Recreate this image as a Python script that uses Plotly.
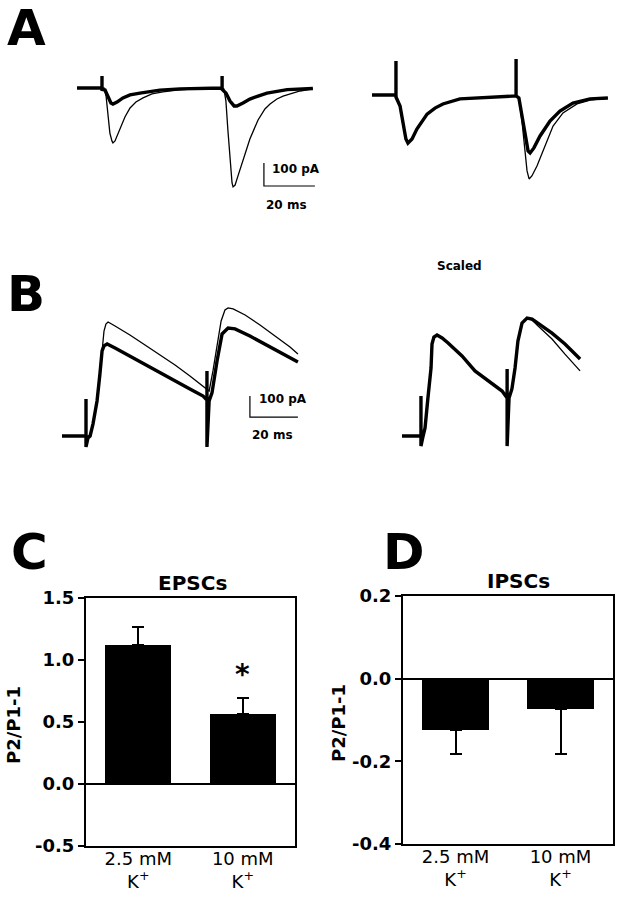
import plotly.graph_objects as go

W, H = 619, 899
FONT = "DejaVu Sans"

# ── traces, time in ms and current in pA ────────────────────────────────────
a_left_thick_t = [0, 9.8, 9.8, 9.8, 11.0, 12.2, 13.3, 14.1, 15.7, 18.0, 20.8, 24.7, 32.5, 40.4,
                  56.9, 56.9, 56.9, 58.4, 60.0, 61.6, 62.7, 65.1, 67.8, 71.0, 74.5, 82.4, 92.5]
a_left_thick_i = [0, 0, 52, -6, -9, -43, -65, -70, -61, -43, -30, -22, -9, -4,
                  0, 52, -6, -22, -57, -78, -78, -65, -48, -35, -22, -7, -2]
a_left_thin_t = [0, 10.6, 11.4, 12.2, 12.9, 13.7, 14.1, 14.9, 16.1, 17.3, 18.8, 20.8, 23.1, 25.9,
                 29.4, 33.7, 39.2, 46.3, 56.9, 57.6, 58.4, 59.2, 60.0, 60.8, 61.2, 62.0, 63.1,
                 65.1, 67.8, 71.0, 73.7, 75.7, 78.4, 80.8, 84.3, 87.5, 92.5]
a_left_thin_i = [0, 0, -35, -122, -196, -230, -239, -230, -200, -165, -126, -87, -61, -43,
                 -26, -17, -9, -4, 0, -4, -57, -187, -317, -413, -430, -422, -383,
                 -317, -222, -139, -91, -70, -48, -35, -22, -13, -4]

a_right_thick_t = [0, 9.4, 9.4, 9.4, 11.0, 12.2, 13.3, 14.1, 15.7, 17.6, 19.6, 21.6, 24.7, 27.8,
                   34.5, 45.1, 56.5, 56.5, 56.5, 57.6, 58.8, 60.0, 61.2, 62.0, 63.5, 65.9, 69.8,
                   73.7, 78.8, 85.5, 92.5]
a_right_thick_i = [0, 0, 148, -9, -48, -135, -191, -209, -191, -148, -113, -83, -57, -39,
                   -17, -9, -4, 157, -4, -13, -91, -178, -243, -252, -230, -178, -113,
                   -70, -35, -17, -13]
a_right_thin_t = [0, 9.4, 11.0, 12.2, 13.3, 14.1, 15.7, 17.6, 19.6, 21.6, 24.7, 27.8, 34.5, 45.1,
                  56.5, 57.6, 58.8, 60.0, 60.8, 61.6, 62.7, 64.7, 67.8, 71.0, 74.9, 80.4, 85.5, 92.5]
a_right_thin_i = [0, 0, -48, -135, -191, -209, -191, -148, -113, -83, -57, -39, -17, -9,
                  -4, -13, -113, -243, -330, -365, -352, -309, -222, -135, -78, -39, -22, -13]

b_left_thick_t = [0, 10.0, 10.0, 10.0, 10.8, 11.7, 12.9, 14.6, 15.8, 16.7, 17.5, 18.8, 22.1, 28.3,
                  34.6, 40.8, 47.1, 53.3, 58.8, 60.4, 60.4, 60.4, 61.3, 62.5, 64.6, 66.7, 69.2,
                  72.1, 78.3, 84.6, 90.8, 98.3]
b_left_thick_i = [0, 0, 176, -52, -10, 0, 57, 167, 295, 405, 429, 438, 419, 381,
                  343, 305, 262, 224, 190, 171, 310, -52, 167, 205, 357, 486, 514,
                  510, 476, 438, 400, 352]
b_left_thin_t = [0, 11.7, 12.9, 14.6, 15.8, 16.7, 17.5, 18.3, 19.2, 22.1, 28.3, 34.6, 40.8, 47.1,
                 53.3, 58.8, 60.4, 61.3, 62.9, 64.6, 66.3, 67.9, 69.2, 71.3, 76.3, 82.5, 88.8,
                 95.0, 98.3]
b_left_thin_i = [0, 0, 57, 167, 295, 405, 500, 533, 543, 524, 481, 433, 386, 338,
                 286, 238, 224, 214, 310, 429, 548, 600, 610, 605, 576, 529, 476,
                 424, 390]

b_right_thick_t = [0, 7.9, 7.9, 7.9, 8.8, 9.6, 10.8, 12.1, 12.5, 13.3, 14.6, 16.7, 19.2, 25.0,
                   30.4, 35.8, 41.7, 43.8, 43.8, 43.8, 44.6, 45.8, 47.1, 48.3, 50.0, 52.1, 54.2,
                   56.7, 62.5, 67.9, 74.2]
b_right_thick_i = [0, 0, 190, -48, 0, 38, 181, 324, 438, 471, 481, 467, 443, 381,
                   310, 262, 214, 181, 319, -48, 181, 224, 324, 452, 538, 562, 557,
                   538, 490, 438, 367]
b_right_thin_t = [0, 8.8, 9.6, 10.8, 12.1, 12.5, 13.3, 14.6, 16.7, 19.2, 25.0, 30.4, 35.8, 41.7,
                  43.8, 44.6, 45.8, 47.1, 48.3, 50.0, 52.1, 54.2, 56.7, 62.5, 67.9, 74.2]
b_right_thin_i = [0, 0, 38, 181, 324, 438, 471, 481, 467, 443, 381, 310, 262, 214,
                  181, 181, 224, 324, 452, 538, 562, 552, 524, 462, 390, 310]

# scale bars: 20 ms x 100 pA
scale_a_t = [73.3, 73.3, 93.3]
scale_a_i = [-326, -426, -426]
scale_b_t = [78.3, 78.3, 98.3]
scale_b_i = [190, 90, 90]

# ── bar panels ──────────────────────────────────────────────────────────────
categories = ["2.5 mM<br>K<sup>+</sup>", "10 mM<br>K<sup>+</sup>"]
epsc_mean = [1.12, 0.565]
epsc_sem = [0.145, 0.125]
ipsc_mean = [-0.124, -0.073]
ipsc_sem = [0.058, 0.109]
epsc_ticks = [-0.5, 0.0, 0.5, 1.0, 1.5]
epsc_ticktext = ["-0.5", "0.0", "0.5", "1.0", "1.5"]
ipsc_ticks = [-0.4, -0.2, 0.0, 0.2]
ipsc_ticktext = ["-0.4", "-0.2", "0.0", "0.2"]

# the photographed page shows the paper between rows ~10 and ~888
PAPER_TOP, PAPER_H = 10, 878


def px_x(x):
    return x / W


def px_y(y):
    return 1 - (y - PAPER_TOP) / PAPER_H


def trace_axes(box, x0, sx, y0, sy):
    # box in pixels (left, top, right, bottom); sx px per ms, sy px per pA
    l, t, r, b = box
    xa = dict(domain=[px_x(l), px_x(r)], range=[(l - x0) / sx, (r - x0) / sx], visible=False)
    ya = dict(domain=[px_y(b), px_y(t)], range=[(y0 - b) / sy, (y0 - t) / sy], visible=False)
    return xa, ya


fig = go.Figure()

panels = [
    ("", a_left_thin_t, a_left_thin_i, a_left_thick_t, a_left_thick_i),
    ("2", a_right_thin_t, a_right_thin_i, a_right_thick_t, a_right_thick_i),
    ("3", b_left_thin_t, b_left_thin_i, b_left_thick_t, b_left_thick_i),
    ("4", b_right_thin_t, b_right_thin_i, b_right_thick_t, b_right_thick_i),
]
for n, tt, ti, kt, ki in panels:
    fig.add_trace(go.Scatter(x=tt, y=ti, mode="lines", xaxis="x" + n, yaxis="y" + n,
                             line=dict(color="black", width=1.3), showlegend=False))
    fig.add_trace(go.Scatter(x=kt, y=ki, mode="lines", xaxis="x" + n, yaxis="y" + n,
                             line=dict(color="black", width=3.4), showlegend=False))

fig.add_trace(go.Scatter(x=scale_a_t, y=scale_a_i, mode="lines", xaxis="x", yaxis="y",
                         line=dict(color="black", width=1.2), showlegend=False))
fig.add_trace(go.Scatter(x=scale_b_t, y=scale_b_i, mode="lines", xaxis="x3", yaxis="y3",
                         line=dict(color="black", width=1.2), showlegend=False))

# bars C and D
fig.add_trace(go.Bar(x=[0, 1], y=epsc_mean, xaxis="x5", yaxis="y5", width=0.63,
                     marker=dict(color="black", line=dict(width=0)), showlegend=False,
                     error_y=dict(type="data", symmetric=False, array=epsc_sem,
                                  arrayminus=[0, 0], color="black", thickness=2, width=6)))
fig.add_trace(go.Bar(x=[0, 1], y=ipsc_mean, xaxis="x6", yaxis="y6", width=0.63,
                     marker=dict(color="black", line=dict(width=0)), showlegend=False,
                     error_y=dict(type="data", symmetric=False, array=[0, 0],
                                  arrayminus=ipsc_sem, color="black", thickness=2, width=6)))

xa1, ya1 = trace_axes((70, 50, 322, 215), 77, 2.55, 87, 0.23)
xa2, ya2 = trace_axes((365, 40, 615, 200), 372, 2.55, 94, 0.23)
xa3, ya3 = trace_axes((55, 285, 312, 460), 62, 2.4, 435, 0.21)
xa4, ya4 = trace_axes((395, 285, 600, 460), 402, 2.4, 435, 0.21)
ya2.update(anchor="x2")
xa2.update(anchor="y2")
xa3.update(anchor="y3")
ya3.update(anchor="x3")
xa4.update(anchor="y4")
ya4.update(anchor="x4")

tickfont = dict(family=FONT, size=18, color="black", weight="bold")
catfont = dict(family=FONT, size=18, color="black")


def bar_axes(box, yrange, tickvals, ticktext, n):
    l, t, r, b = box
    xa = dict(domain=[px_x(l), px_x(r)], range=[-0.5, 1.5], anchor="y" + n,
              tickvals=[0, 1], ticktext=categories, ticks="", tickfont=catfont,
              ticklabelstandoff=-5,
              showline=True, linecolor="black", linewidth=2, mirror=True,
              showgrid=False, zeroline=False, fixedrange=True)
    ya = dict(domain=[px_y(b), px_y(t)], range=yrange, anchor="x" + n,
              tickvals=tickvals, ticktext=ticktext, ticks="outside", ticklen=6,
              tickwidth=2, tickcolor="black", tickfont=tickfont,
              showline=True, linecolor="black", linewidth=2, mirror=True,
              showgrid=False, zeroline=True, zerolinecolor="black", zerolinewidth=1.5)
    return xa, ya


xa5, ya5 = bar_axes((86, 597, 295, 845), [-0.5, 1.5], epsc_ticks, epsc_ticktext, "5")
xa6, ya6 = bar_axes((403, 595, 613, 843), [-0.4, 0.2], ipsc_ticks, ipsc_ticktext, "6")


def note(text, x, y, size, bold=True, xanchor="center", angle=0):
    return dict(text=f"<b>{text}</b>" if bold else text, x=px_x(x), y=px_y(y),
                xref="paper", yref="paper", xanchor=xanchor, yanchor="middle",
                showarrow=False, textangle=angle,
                font=dict(family=FONT, size=size, color="black"))


annotations = [
    note("A", 26, 27, 50),
    note("B", 26, 293, 50),
    note("C", 29, 551, 50),
    note("D", 404, 551, 50),
    note("100 pA", 270, 168, 12, xanchor="left"),
    note("20 ms", 264, 204, 12, xanchor="left"),
    note("100 pA", 257, 398, 12, xanchor="left"),
    note("20 ms", 250, 434, 12, xanchor="left"),
    note("Scaled", 460, 265, 12),
    note("EPSCs", 192, 582, 20),
    note("IPSCs", 518, 580, 20),
    note("P2/P1-1", 13, 724, 18, angle=-90),
    note("P2/P1-1", 338, 722, 18, angle=-90),
    dict(text="<b>*</b>", x=1, y=0.885, xref="x5", yref="y5", showarrow=False,
         yanchor="middle", font=dict(family=FONT, size=28, color="black")),
]

fig.update_layout(
    width=W, height=H,
    margin=dict(l=0, r=0, t=0, b=0),
    paper_bgcolor="white", plot_bgcolor="rgba(0,0,0,0)",
    xaxis=xa1, yaxis=ya1, xaxis2=xa2, yaxis2=ya2, xaxis3=xa3, yaxis3=ya3,
    xaxis4=xa4, yaxis4=ya4, xaxis5=xa5, yaxis5=ya5, xaxis6=xa6, yaxis6=ya6,
    annotations=annotations,
    bargap=0,
)

# pin the 619x899 figure to the window's top-left corner
pin = ("document.body.style.margin='0';document.body.style.overflow='hidden';"
       "var d=document.getElementById('{plot_id}');"
       "d.style.position='absolute';d.style.left='0px';d.style.top='0px';")
fig.write_html("out.html", config={"displayModeBar": False}, post_script=pin)
